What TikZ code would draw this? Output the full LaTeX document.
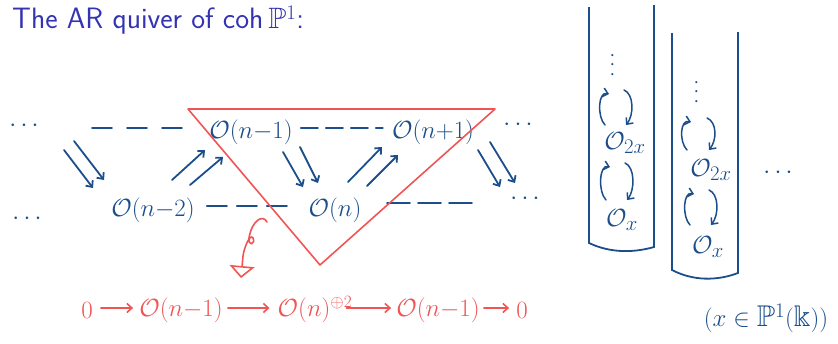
\documentclass[tikz,border=0pt]{standalone}
\usepackage{amssymb}
\usepackage{fontspec}
\usetikzlibrary{arrows.meta,calc}
\definecolor{hblue}{RGB}{27,78,138}
\definecolor{hred}{RGB}{240,85,85}
\definecolor{btitle}{RGB}{51,51,179}
\begin{document}
\begin{tikzpicture}[x=1pt,y=-1pt,
  obj/.style={text=hblue, font=\fontsize{29}{33}\selectfont, inner sep=0pt},
  cobj/.style={text=hblue, font=\fontsize{30}{34}\selectfont, inner sep=0pt},
  robj/.style={text=hred, font=\fontsize{26}{30}\selectfont, inner sep=0pt},
  barb/.style={-{Straight Barb[length=5pt,width=9pt]}},
  bl/.style={draw=hblue, line width=1.8pt, line cap=round},
  thinbl/.style={draw=hblue, line width=1.5pt, line cap=round},
  rl/.style={draw=hred, line width=1.6pt, line cap=round},
  col/.style={draw=hblue, line width=1.8pt},
  dts/.style={text=hblue, font=\fontsize{26}{30}\selectfont, inner sep=0pt},
  vdts/.style={text=hblue, font=\fontsize{22}{26}\selectfont, inner sep=0pt, rotate=90}
]
\useasboundingbox (0,0) rectangle (838,343);

% title
\node[anchor=base west, text=btitle, font=\sffamily\fontsize{29.5}{35}\selectfont, inner sep=0pt] (title) at (12,28.5) {The AR quiver of coh\,$\mathbb{P}^1$:};

% objects
\node[obj] (On1)  at (251,132) {$\mathcal{O}(n{-}1)$};
\node[obj] (On1p) at (433,132) {$\mathcal{O}(n{+}1)$};
\node[obj] (On2)  at (153,210) {$\mathcal{O}(n{-}2)$};
\node[obj] (On)   at (335,210) {$\mathcal{O}(n)$};

\node[dts] (dTL) at (24,126) {$\cdots$};
\node[dts] (dBL) at (27,219) {$\cdots$};
\node[dts] (dTR) at (518,125) {$\cdots$};
\node[dts] (dBR) at (525,199) {$\cdots$};
\node[dts] (dCol) at (778,173) {$\cdots$};

% dashed rows
\coordinate (tl1) at (92,128);
\coordinate (tl2) at (182,128);
\draw[bl, dash pattern=on 20pt off 15pt] (tl1) -- (tl2);
\draw[bl, dash pattern=on 17pt off 8pt] ([xshift=8pt,yshift=4pt]On1.east) -- ([xshift=-9pt,yshift=4pt]On1p.west);
\draw[bl, dash pattern=on 20pt off 10pt] ([xshift=12pt,yshift=4pt]On2.east) -- ([xshift=-14pt,yshift=4pt]On.west);
\coordinate (br1) at (387,203);
\coordinate (br2) at (473,203);
\draw[bl, dash pattern=on 23pt off 8pt] (br1) -- (br2);

% double arrows
\coordinate (a1s) at (64,150);  \coordinate (a1e) at (93,188);
\coordinate (a2s) at (74,141);  \coordinate (a2e) at (104,180);
\coordinate (b1s) at (172,180); \coordinate (b1e) at (205,150);
\coordinate (b2s) at (190,185); \coordinate (b2e) at (223,157);
\coordinate (c1s) at (283,152); \coordinate (c1e) at (303,187);
\coordinate (c2s) at (300,147); \coordinate (c2e) at (318,183);
\coordinate (d1s) at (348,182); \coordinate (d1e) at (382,147);
\coordinate (d2s) at (367,186); \coordinate (d2e) at (398,155);
\coordinate (e1s) at (478,150); \coordinate (e1e) at (500,187);
\coordinate (e2s) at (490,142); \coordinate (e2e) at (515,183);
\foreach \p in {a1,a2,b1,b2,c1,c2,d1,d2,e1,e2}
  \draw[bl, barb] (\p s) -- (\p e);

% red triangle
\coordinate (t1) at (188,109);
\coordinate (t2) at (495,109);
\coordinate (t3) at (320,265);
\draw[rl, line join=round] (t1) -- (t2) -- (t3) -- cycle;

% red squiggle arrow
\coordinate (sq0) at (267,222);
\coordinate (sqE) at (241,278);
\draw[rl, -{Triangle[open,length=12pt,width=25pt]}] (sq0) .. controls (263,214) and (252,220) .. (249,238)
  .. controls (248,247) and (256,244) .. (253,238)
  .. controls (250,233) and (244,248) .. (243,256) -- (sqE);

% exact sequence
\node[robj] (z1) at (87,310) {$0$};
\node[robj] (A)  at (181,310) {$\mathcal{O}(n{-}1)$};
\node[robj] (B)  at (315,310) {$\mathcal{O}(n)^{\oplus 2}$};
\node[robj] (C)  at (438,310) {$\mathcal{O}(n{-}1)$};
\node[robj] (z2) at (522,310) {$0$};
\draw[rl, barb] ([xshift=8pt,yshift=2pt]z1.east) -- ([xshift=-6pt,yshift=2pt]A.west);
\draw[rl, barb] ([xshift=5pt,yshift=2pt]A.east) -- ([xshift=-8pt,yshift=2pt]B.west);
\draw[rl, barb] ([xshift=-6pt,yshift=2pt]B.east) -- ([xshift=-5pt,yshift=2pt]C.west);
\draw[rl, barb] ([xshift=4pt,yshift=2pt]C.east) -- ([xshift=-7pt,yshift=2pt]z2.west);

% right columns
\coordinate (k1a) at (589,7);   \coordinate (k1b) at (589,243);
\coordinate (k1c) at (654,247); \coordinate (k1d) at (654,5);
\draw[col] (k1a) -- (k1b) .. controls (610,253) and (633,253) .. (k1c) -- (k1d);
\coordinate (k2a) at (672,33);  \coordinate (k2b) at (672,270);
\coordinate (k2c) at (738,273); \coordinate (k2d) at (738,32);
\draw[col] (k2a) -- (k2b) .. controls (693,281) and (717,281) .. (k2c) -- (k2d);

\node[vdts] (v1) at (613,65) {$\cdots$};
\node[vdts] (v2) at (697,92) {$\cdots$};
\node[cobj] (O2x1) at (625,143) {$\mathcal{O}_{2x}$};
\node[cobj] (Ox1)  at (622,220) {$\mathcal{O}_{x}$};
\node[cobj] (O2x2) at (711,170) {$\mathcal{O}_{2x}$};
\node[cobj] (Ox2)  at (708,247) {$\mathcal{O}_{x}$};

% curly arrow pairs: xL, xR, ytop, ybot
\foreach \xl/\xr/\yt/\yb in {600/632/90/125, 601/633/163/200, 682/715/118/150, 685/717/190/225} {
  \draw[thinbl, barb] (\xl+5,\yb) .. controls (\xl-3,\yb-8) and (\xl-2,\yt+1) .. (\xl+9,\yt+4);
  \draw[thinbl, barb] (\xr-8,\yt) .. controls (\xr+2,\yt+4) and (\xr+2,\yb-10) .. (\xr-6,\yb);
}

\node[cobj] (cond) at (766,318) {$\bigl(x \in \mathbb{P}^1(\Bbbk)\bigr)$};
\end{tikzpicture}
\end{document}
